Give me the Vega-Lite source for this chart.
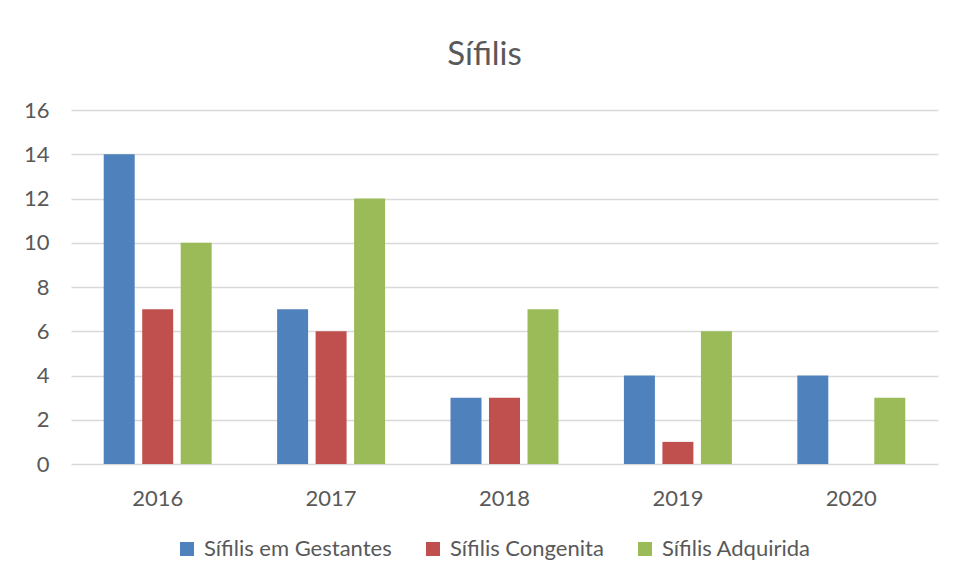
{
  "$schema": "https://vega.github.io/schema/vega-lite/v6.json",
  "autosize": "none",
  "width": 867,
  "height": 354,
  "padding": {"left": 71, "top": 110, "right": 18, "bottom": 116},
  "background": "white",
  "title": {
    "text": "Sífilis",
    "fontSize": 33,
    "font": "Lato",
    "fontWeight": "normal",
    "color": "#595959",
    "anchor": "middle",
    "dx": -20,
    "baseline": "alphabetic",
    "offset": 1
  },
  "data": {
    "values": [
      {"ano": "2016", "serie": "Sífilis em Gestantes", "casos": 14},
      {"ano": "2016", "serie": "Sífilis Congenita", "casos": 7},
      {"ano": "2016", "serie": "Sífilis Adquirida", "casos": 10},
      {"ano": "2017", "serie": "Sífilis em Gestantes", "casos": 7},
      {"ano": "2017", "serie": "Sífilis Congenita", "casos": 6},
      {"ano": "2017", "serie": "Sífilis Adquirida", "casos": 12},
      {"ano": "2018", "serie": "Sífilis em Gestantes", "casos": 3},
      {"ano": "2018", "serie": "Sífilis Congenita", "casos": 3},
      {"ano": "2018", "serie": "Sífilis Adquirida", "casos": 7},
      {"ano": "2019", "serie": "Sífilis em Gestantes", "casos": 4},
      {"ano": "2019", "serie": "Sífilis Congenita", "casos": 1},
      {"ano": "2019", "serie": "Sífilis Adquirida", "casos": 6},
      {"ano": "2020", "serie": "Sífilis em Gestantes", "casos": 4},
      {"ano": "2020", "serie": "Sífilis Congenita", "casos": 0},
      {"ano": "2020", "serie": "Sífilis Adquirida", "casos": 3}
    ]
  },
  "mark": {"type": "bar"},
  "encoding": {
    "x": {
      "field": "ano",
      "type": "nominal",
      "scale": {"paddingInner": 0, "paddingOuter": 0},
      "axis": {
        "title": null,
        "labelAngle": 0,
        "ticks": false,
        "domain": false,
        "labelPadding": 24,
        "labelFont": "Lato",
        "labelFontSize": 22,
        "labelColor": "#595959"
      }
    },
    "xOffset": {
      "field": "serie",
      "type": "nominal",
      "sort": ["Sífilis em Gestantes", "Sífilis Congenita", "Sífilis Adquirida"],
      "scale": {"paddingInner": 0.195, "paddingOuter": 0.85}
    },
    "y": {
      "field": "casos",
      "type": "quantitative",
      "scale": {"domain": [0, 16], "nice": false},
      "axis": {
        "title": null,
        "values": [0, 2, 4, 6, 8, 10, 12, 14, 16],
        "ticks": false,
        "domain": false,
        "labelPadding": 22,
        "labelFont": "Lato",
        "labelFontSize": 22,
        "labelColor": "#595959",
        "gridColor": "#d9d9d9",
        "gridWidth": 1.5
      }
    },
    "color": {
      "field": "serie",
      "type": "nominal",
      "sort": ["Sífilis em Gestantes", "Sífilis Congenita", "Sífilis Adquirida"],
      "scale": {
        "domain": ["Sífilis em Gestantes", "Sífilis Congenita", "Sífilis Adquirida"],
        "range": ["#4F81BD", "#C0504D", "#9BBB59"]
      },
      "legend": {
        "title": null,
        "orient": "none",
        "direction": "horizontal",
        "legendX": 105,
        "legendY": 428,
        "symbolType": "square",
        "symbolSize": 196,
        "symbolStrokeWidth": 0,
        "labelFont": "Lato",
        "labelFontSize": 22,
        "labelLimit": 0,
        "labelColor": "#595959",
        "labelOffset": 6,
        "columnPadding": 30
      }
    }
  },
  "config": {
    "view": {"stroke": null}
  }
}
